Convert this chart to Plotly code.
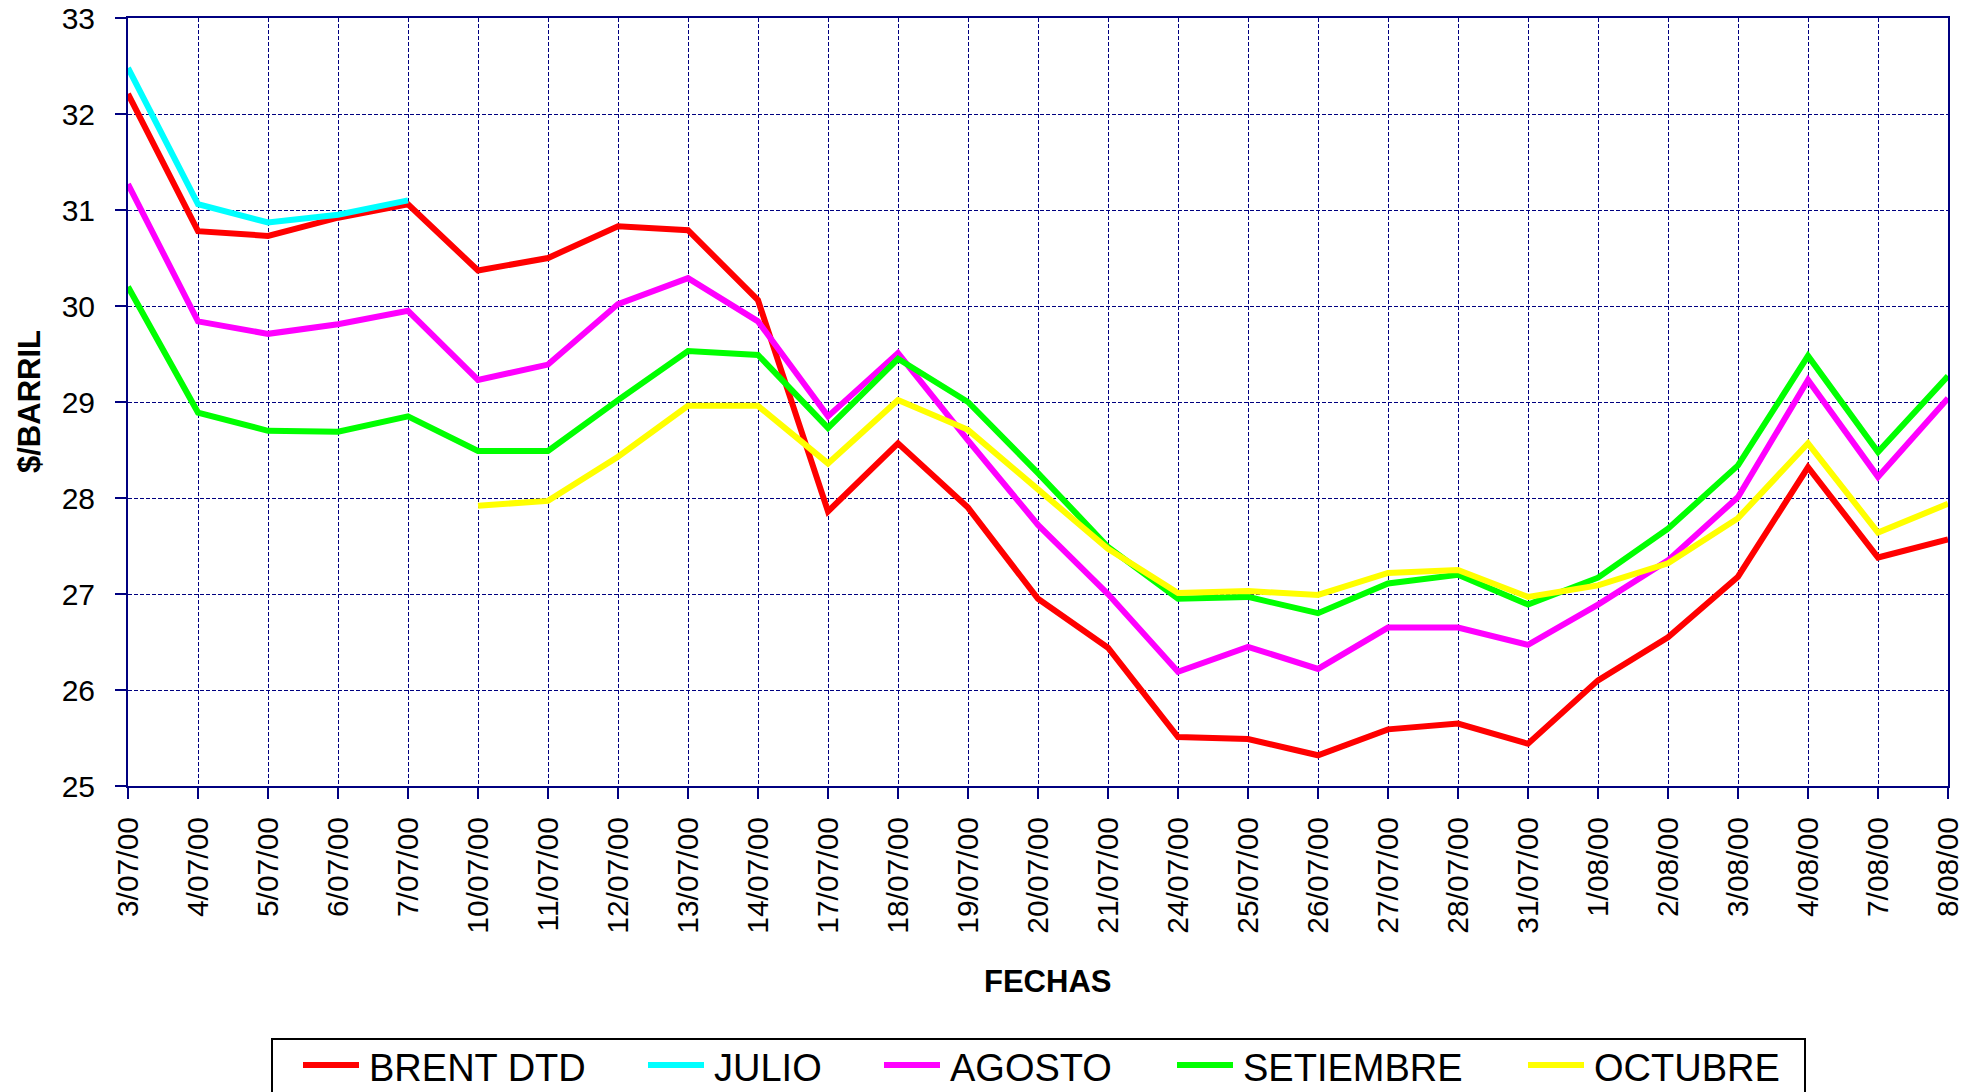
import plotly.graph_objects as go

fechas = ["3/07/00", "4/07/00", "5/07/00", "6/07/00", "7/07/00",
          "10/07/00", "11/07/00", "12/07/00", "13/07/00", "14/07/00",
          "17/07/00", "18/07/00", "19/07/00", "20/07/00", "21/07/00",
          "24/07/00", "25/07/00", "26/07/00", "27/07/00", "28/07/00",
          "31/07/00", "1/08/00", "2/08/00", "3/08/00", "4/08/00",
          "7/08/00", "8/08/00"]

brent_dtd = [32.21, 30.78, 30.73, 30.92, 31.06, 30.37, 30.50, 30.83, 30.79, 30.06,
             27.86, 28.57, 27.90, 26.95, 26.44, 25.51, 25.49, 25.32, 25.59, 25.65,
             25.44, 26.10, 26.55, 27.18, 28.32, 27.38, 27.57]
julio = [32.48, 31.06, 30.87, 30.95, 31.10] + [None] * 22
agosto = [31.27, 29.84, 29.71, 29.81, 29.95, 29.23, 29.39, 30.02, 30.29, 29.84,
          28.85, 29.51, 28.60, 27.72, 27.00, 26.19, 26.45, 26.22, 26.65, 26.65,
          26.47, 26.89, 27.35, 28.01, 29.23, 28.22, 29.04]
setiembre = [30.20, 28.89, 28.70, 28.69, 28.85, 28.49, 28.49, 29.02, 29.53, 29.49,
             28.73, 29.45, 29.00, 28.26, 27.49, 26.95, 26.97, 26.80, 27.11, 27.20,
             26.89, 27.17, 27.68, 28.34, 29.48, 28.48, 29.27]
octubre = [None] * 5 + [27.92, 27.97, 28.43, 28.96, 28.96, 28.36, 29.02, 28.71, 28.09,
                        27.47, 27.01, 27.03, 26.99, 27.22, 27.25, 26.97, 27.09, 27.32,
                        27.79, 28.57, 27.64, 27.94]

nombres = ["BRENT DTD", "JULIO", "AGOSTO", "SETIEMBRE", "OCTUBRE"]
valores = [brent_dtd, julio, agosto, setiembre, octubre]
colores = ["#FF0000", "#00FFFF", "#FF00FF", "#00FF00", "#FFFF00"]

FONT = "Arial, 'Liberation Sans', sans-serif"
NAVY = "#000080"

# The page body has an 8px margin, so the figure is made 8px smaller
W, H = 1972, 1084
L, R, T, B = 120, 32, 10, 306
pw, ph = W - L - R, H - T - B


def px(xf):
    return (xf - L) / pw


def py(yf):
    return 1 - (yf - T) / ph


fig = go.Figure()
for name, vals, col in zip(nombres, valores, colores):
    fig.add_trace(go.Scatter(x=fechas, y=vals, name=name, mode="lines",
                             line=dict(color=col, width=6), connectgaps=False,
                             showlegend=False))

# Legend drawn as a framed box below the chart
leg_line_x = [295, 640, 876, 1169, 1520]
leg_y = 1057
shapes = [dict(type="rect", xref="paper", yref="paper",
               x0=px(264), x1=px(1797), y0=py(1031), y1=py(1110),
               line=dict(color="black", width=2), fillcolor="white", layer="above")]
annotations = []
for lx, name, col in zip(leg_line_x, nombres, colores):
    shapes.append(dict(type="line", xref="paper", yref="paper",
                       x0=px(lx), x1=px(lx + 56), y0=py(leg_y), y1=py(leg_y),
                       line=dict(color=col, width=6), layer="above"))
    annotations.append(dict(text=name, xref="paper", yref="paper",
                            x=px(lx + 64), y=py(leg_y + 3), xanchor="left", yanchor="middle",
                            showarrow=False, font=dict(family=FONT, size=38, color="black")))

annotations += [
    dict(text="<b>$/BARRIL</b>", xref="paper", yref="paper",
         x=px(21), y=0.5, xanchor="center", yanchor="middle",
         textangle=-90, showarrow=False, font=dict(family=FONT, size=31, color="black")),
    dict(text="<b>FECHAS</b>", xref="paper", yref="paper",
         x=px(1039), y=py(973), xanchor="center", yanchor="middle",
         showarrow=False, font=dict(family=FONT, size=31, color="black")),
]

fig.update_layout(
    width=W, height=H, autosize=False,
    margin=dict(l=L, r=R, t=T, b=B, autoexpand=False),
    paper_bgcolor="white", plot_bgcolor="white",
    font=dict(family=FONT, color="black", size=30),
    showlegend=False,
    xaxis=dict(type="category", categoryorder="array", categoryarray=fechas,
               range=[0, len(fechas) - 1], showline=True, linecolor=NAVY, linewidth=2,
               mirror=True, ticks="outside", ticklen=11, tickwidth=2, tickcolor=NAVY,
               tickangle=-90, tickfont=dict(family=FONT, size=30, color="black"),
               ticklabelstandoff=6, ticklabeloverflow="allow",
               showgrid=True, gridcolor=NAVY, gridwidth=1, griddash="4px,2px",
               automargin=False, zeroline=False),
    yaxis=dict(range=[25, 33], dtick=1, showline=True, linecolor=NAVY, linewidth=2,
               mirror=True, ticks="outside", ticklen=11, tickwidth=2, tickcolor=NAVY,
               tickfont=dict(family=FONT, size=30, color="black"),
               ticklabelstandoff=14, ticklabeloverflow="allow",
               showgrid=True, gridcolor=NAVY, gridwidth=1, griddash="4px,2px",
               automargin=False, zeroline=False),
    shapes=shapes,
    annotations=annotations,
)

fig.write_html("out.html")
